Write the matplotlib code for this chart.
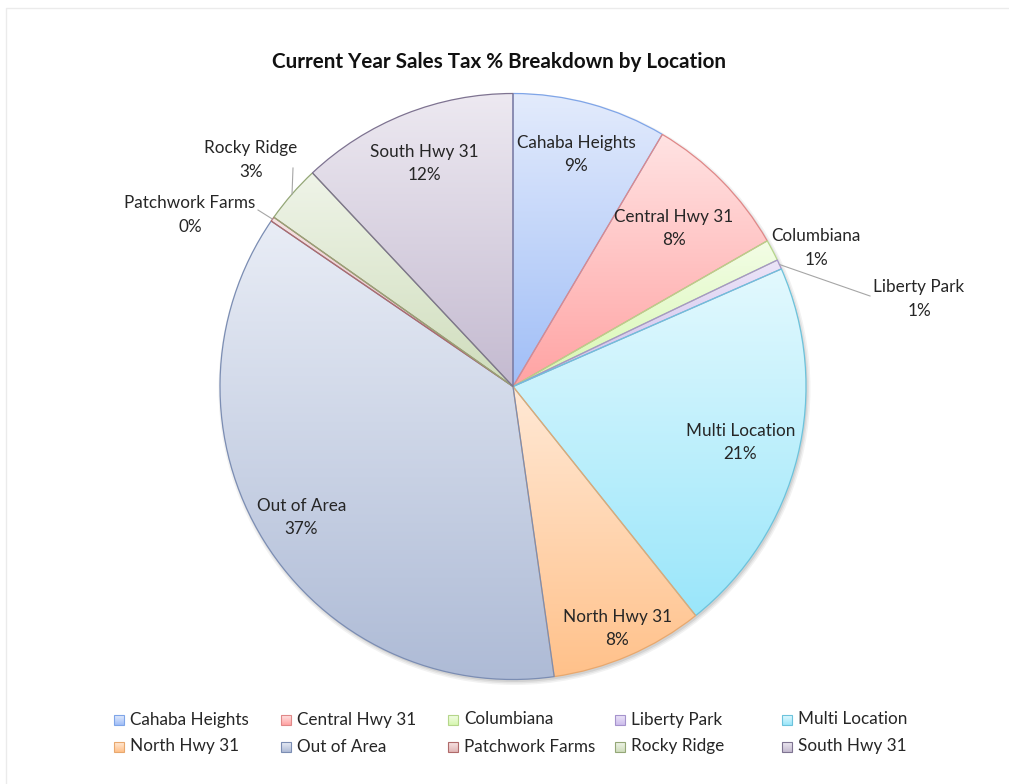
import numpy as np
import matplotlib.pyplot as plt
from matplotlib.patches import Rectangle, Circle
from matplotlib.colors import to_rgb

locations = ['Cahaba Heights', 'Central Hwy 31', 'Columbiana', 'Liberty Park',
             'Multi Location', 'North Hwy 31', 'Out of Area', 'Patchwork Farms',
             'Rocky Ridge', 'South Hwy 31']
shares = [8.51, 8.21, 1.18, 0.53, 20.86, 8.47, 36.8, 0.25, 3.2, 12.0]

top_colors = ['#e3ebfc', '#ffe3e3', '#f3fde6', '#ece5f8', '#e3f9fe',
              '#ffe9d6', '#e9edf6', '#f6e3e3', '#eff4e8', '#ede9f1']
bottom_colors = ['#a0bef7', '#ffa3a3', '#d6f7b0', '#cdbdec', '#9ae6fa',
                 '#ffc18a', '#aebbd6', '#e2b6b6', '#cfddbc', '#c4bad0']
edge_colors = ['#7fa5e8', '#e08888', '#b5d68a', '#a593cc', '#6cc3dc',
               '#e8a86e', '#7b8db3', '#b06a6a', '#94a777', '#7e7391']

# label placement (pixels, y from top) for slices whose label sits outside
outside = {'Columbiana': ((816, 248), None),
           'Liberty Park': ((919, 299), (870, 296)),
           'Patchwork Farms': ((190, 215), (258, 210)),
           'Rocky Ridge': ((251, 160), (293, 168))}
inside_r = {'Cahaba Heights': 0.82, 'Central Hwy 31': 0.77, 'Multi Location': 0.8,
            'North Hwy 31': 0.9, 'Out of Area': 0.85, 'South Hwy 31': 0.82}

plt.rcParams['font.family'] = ['Lato', 'DejaVu Sans']

W, H = 1009, 784
FS = 12.3
fig = plt.figure(figsize=(W / 100, H / 100), dpi=100)
ax = fig.add_axes([0, 0, 1, 1])

cx, cy, r = 513, H - 386.5, 293

# soft shadow
for k, a in enumerate([0.05, 0.06, 0.08]):
    ax.add_patch(Circle((cx + 1.5, cy - 2.5), r + 3 - k * 1.5, color='k', alpha=a, lw=0, zorder=0))

wedges, _ = ax.pie(shares, center=(cx, cy), radius=r, startangle=90, counterclock=False,
                   wedgeprops=dict(linewidth=0.9))

total = sum(shares)
for w, name, s, c0, c1, ec in zip(wedges, locations, shares, top_colors, bottom_colors, edge_colors):
    t = np.radians(np.linspace(w.theta1, w.theta2, 100))
    xs = np.r_[cx, cx + r * np.cos(t)]
    ys = np.r_[cy, cy + r * np.sin(t)]
    grad = np.linspace(to_rgb(c1), to_rgb(c0), 256)[:, None, :]
    im = ax.imshow(grad, extent=[xs.min(), xs.max(), ys.min(), ys.max()], origin='lower',
                   aspect='auto', interpolation='bilinear', zorder=1)
    im.set_clip_path(w)
    w.set_facecolor('none')
    w.set_edgecolor(ec)
    w.set_zorder(2)

    label = f"{name}\n{int(s / total * 100 + 0.5)}%"
    mid = np.radians((w.theta1 + w.theta2) / 2)
    if name in outside:
        (tx, ty), end = outside[name]
        ax.text(tx, H - ty, label, ha='center', va='center', fontsize=FS,
                color='#262626', linespacing=1.55, zorder=4)
        if end is not None:
            ax.plot([cx + r * np.cos(mid), end[0]], [cy + r * np.sin(mid), H - end[1]],
                    color='#a6a6a6', lw=0.8, zorder=3)
    else:
        f = inside_r[name]
        ax.text(cx + f * r * np.cos(mid), cy + f * r * np.sin(mid), label, ha='center',
                va='center', fontsize=FS, color='#262626', linespacing=1.55, zorder=4)

ax.text(499, H - 62, 'Current Year Sales Tax % Breakdown by Location', ha='center',
        va='center', fontsize=14.9, fontweight='bold', color='#111111')

# legend, Excel style: 5 equal columns, 2 rows
for i, (name, c0, c1, ec) in enumerate(zip(locations, top_colors, bottom_colors, edge_colors)):
    row, col = divmod(i, 5)
    x = 114 + col * 167
    y = H - (719.5 + row * 27)
    grad = np.linspace(to_rgb(c1), to_rgb(c0), 32)[:, None, :]
    ax.imshow(grad, extent=[x, x + 10, y - 5, y + 5], origin='lower', aspect='auto', zorder=1)
    ax.add_patch(Rectangle((x, y - 5), 10, 10, facecolor='none', edgecolor=ec, lw=0.8, zorder=2))
    ax.text(x + 16, y, name, va='center', ha='left', fontsize=FS, color='#262626')

ax.add_patch(Rectangle((6, -10), W + 20, H - 8 + 10, fill=False, edgecolor='#ebebeb', lw=1))

ax.set_xlim(0, W)
ax.set_ylim(0, H)
ax.set_aspect('auto')
ax.axis('off')

fig.savefig('out.png', dpi=100, facecolor='white')
